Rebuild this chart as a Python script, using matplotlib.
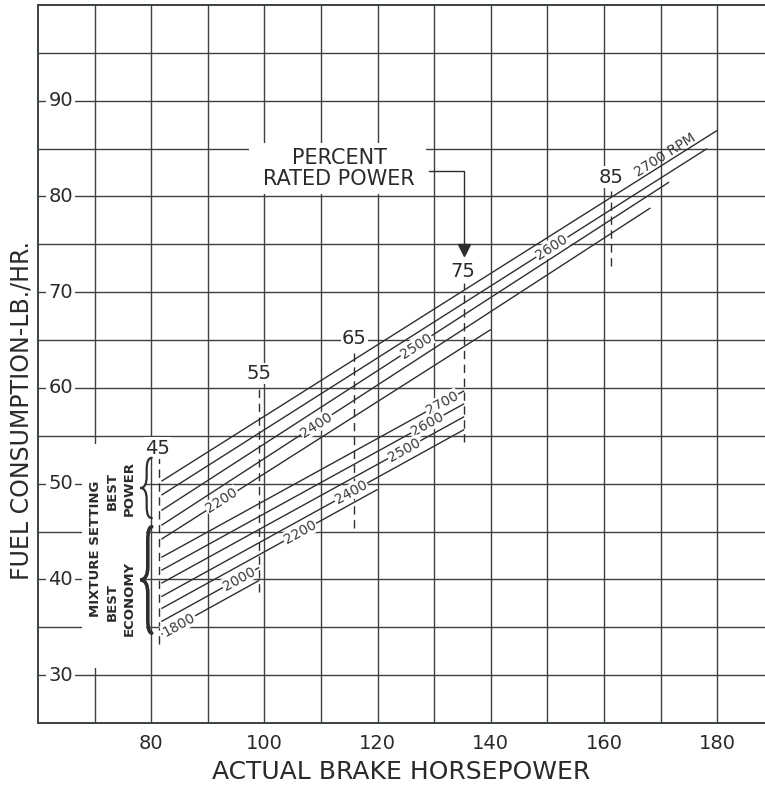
import matplotlib
matplotlib.use('Agg')
import matplotlib.pyplot as plt
from matplotlib.patches import Rectangle, PathPatch
from matplotlib.path import Path
import numpy as np

plt.rcParams['font.family'] = ['DejaVu Sans']

# ---------------- data ----------------
hp_ticks = [80, 100, 120, 140, 160, 180]
fuel_ticks = [30, 40, 50, 60, 70, 80, 90]

# best power mixture lines
power_rpm = ['2700', '2600', '2500', '2400', '2200']
power_hp_start = [81.8, 81.8, 81.8, 81.8, 81.8]
power_fuel_start = [50.25, 48.8, 47.2, 45.65, 44.2]
power_hp_end = [180.0, 178.2, 171.5, 168.2, 140.0]
power_fuel_end = [86.9, 85.0, 81.5, 78.8, 66.1]
power_label_hp = [None, 150.8, 126.8, 109.2, 92.5]

# best economy mixture lines
econ_rpm = ['2700', '2600', '2500', '2400', '2200', '2000', '1800']
econ_hp_start = [81.8, 81.8, 81.8, 81.8, 81.8, 81.8, 81.8]
econ_fuel_start = [42.3, 40.95, 39.6, 38.2, 36.95, 35.6, 34.25]
econ_hp_end = [135.3, 135.3, 135.3, 135.3, 120.0, 99.1, 99.1]
econ_fuel_end = [59.7, 58.35, 57.0, 55.65, 49.4, 41.25, 39.9]
econ_label_hp = [131.4, 128.8, 124.7, 115.3, 106.3, 95.5, 84.9]

# percent rated power markers
pct_labels = ['45', '55', '65', '75', '85']
pct_hp = [81.4, 99.1, 115.9, 135.2, 161.3]
pct_fuel_top = [52.8, 60.2, 63.6, 71.0, 80.6]
pct_fuel_bot = [33.2, 38.7, 45.4, 54.4, 72.7]
pct_label_pos = [(81.1, 53.7), (99.1, 61.5), (115.9, 65.2), (135.0, 72.2), (161.3, 82.0)]

# ---------------- figure ----------------
W, H = 765, 786
fig = plt.figure(figsize=(W / 100, H / 100), dpi=100)
fig.patch.set_facecolor('white')
ax = fig.add_axes([38 / W, 63 / H, (W - 38) / W, 718 / H])
ax.set_xlim(60, 60 + (W - 38) / 5.66)
ax.set_ylim(25, 100)

grid_c = '#39423d'
line_c = '#2e2e30'
for x in range(70, 190, 10):
    ax.axvline(x, color=grid_c, lw=1.0, zorder=1)
for y in range(30, 100, 5):
    ax.axhline(y, color=grid_c, lw=1.0, zorder=1)

for s in ['left', 'top', 'bottom']:
    ax.spines[s].set_color(grid_c)
    ax.spines[s].set_linewidth(1.4)
ax.spines['right'].set_visible(False)

ax.set_xticks(hp_ticks)
ax.set_xticklabels([str(v) for v in hp_ticks], fontsize=14, color='#2a2a2a')
ax.tick_params(axis='x', length=0, pad=8)
ax.set_yticks([])

for v in fuel_ticks:
    ax.text(64.0, v, str(v), fontsize=14, color='#2a2a2a', ha='center', va='center',
            zorder=3, bbox=dict(fc='white', ec='none', pad=1.5))

ax.set_xlabel('ACTUAL BRAKE HORSEPOWER', fontsize=18, color='#2a2a2a', labelpad=5)
fig.text(22 / W, 1 - 411 / H, 'FUEL CONSUMPTION-LB./HR.', rotation=90, fontsize=17,
         color='#2a2a2a', ha='center', va='center')

# white areas around annotations
ax.add_patch(Rectangle((67.7, 30.7), 79.0 - 67.7, 54.1 - 30.7, fc='white', ec='none', zorder=2))
ax.add_patch(Rectangle((97.3, 80.3), 128.6 - 97.3, 85.6 - 80.3, fc='white', ec='none', zorder=2))

fig.canvas.draw()


def screen_angle(x0, y0, x1, y1):
    p0 = ax.transData.transform((x0, y0))
    p1 = ax.transData.transform((x1, y1))
    return np.degrees(np.arctan2(p1[1] - p0[1], p1[0] - p0[0]))


def draw_group(rpm, xs, ys, xe, ye, lab_x):
    for r, x0, y0, x1, y1, lx in zip(rpm, xs, ys, xe, ye, lab_x):
        ax.plot([x0, x1], [y0, y1], color=line_c, lw=1.0, zorder=4, solid_capstyle='butt')
        if lx is not None:
            ly = y0 + (y1 - y0) * (lx - x0) / (x1 - x0)
            ang = screen_angle(x0, y0, x1, y1)
            ax.text(lx, ly, r, fontsize=10, color='#3a3a3a', rotation=ang,
                    rotation_mode='anchor', ha='center', va='center', zorder=5,
                    bbox=dict(fc='white', ec='none', pad=0.6))


draw_group(power_rpm, power_hp_start, power_fuel_start, power_hp_end, power_fuel_end, power_label_hp)
draw_group(econ_rpm, econ_hp_start, econ_fuel_start, econ_hp_end, econ_fuel_end, econ_label_hp)

# 2700 RPM label above top line
ang = screen_angle(power_hp_start[0], power_fuel_start[0], power_hp_end[0], power_fuel_end[0])
ax.text(170.9, 84.3, '2700 RPM', fontsize=10, color='#3a3a3a', rotation=ang,
        rotation_mode='anchor', ha='center', va='center', zorder=5)

# percent rated power dashed lines and labels
for lab, x, yt, yb, (lx, ly) in zip(pct_labels, pct_hp, pct_fuel_top, pct_fuel_bot, pct_label_pos):
    ax.plot([x, x], [yb, yt], color=line_c, lw=1.0, ls=(0, (6, 4)), zorder=3)
    ax.text(lx, ly, lab, fontsize=14, color='#2a2a2a', ha='center', va='center', zorder=5,
            bbox=dict(fc='white', ec='none', pad=1.0))

# percent rated power note and arrow
ax.text(113.2, 82.9, 'PERCENT\nRATED POWER', fontsize=15, color='#2a2a2a', ha='center',
        va='center', linespacing=1.05, zorder=5)
ax.plot([129.1, 135.2, 135.2], [82.7, 82.7, 74.8], color=line_c, lw=1.0, zorder=4)
ax.plot([135.2], [74.4], marker='v', ms=8, color=line_c, zorder=4)


def brace(x_end, x_spine, x_cusp, y0, y1, r, lw):
    ym = 0.5 * (y0 + y1)
    verts = [(x_end, y1), (x_spine, y1), (x_spine, y1 - r), (x_spine, ym + r),
             (x_spine, ym), (x_cusp, ym), (x_spine, ym), (x_spine, ym - r),
             (x_spine, y0 + r), (x_spine, y0), (x_end, y0)]
    codes = [Path.MOVETO, Path.CURVE3, Path.CURVE3, Path.LINETO,
             Path.CURVE3, Path.CURVE3, Path.CURVE3, Path.CURVE3,
             Path.LINETO, Path.CURVE3, Path.CURVE3]
    ax.add_patch(PathPatch(Path(verts, codes), fc='none', ec=line_c, lw=lw, zorder=5,
                           capstyle='round'))


brace(80.1, 79.2, 78.1, 46.4, 52.7, 1.2, 1.6)
brace(80.1, 79.4, 78.1, 34.4, 45.5, 1.4, 2.6)

# mixture setting text
tk = dict(rotation=90, fontsize=9.5, fontweight='bold', color='#2a2a2a', ha='center',
          va='center', zorder=6)
ax.text(70.1, 43.2, 'MIXTURE SETTING', **tk)
ax.text(73.1, 49.2, 'BEST', **tk)
ax.text(76.1, 49.5, 'POWER', **tk)
ax.text(73.1, 37.6, 'BEST', **tk)
ax.text(76.1, 38.0, 'ECONOMY', **tk)

fig.savefig('out.png', dpi=100, facecolor='white')
